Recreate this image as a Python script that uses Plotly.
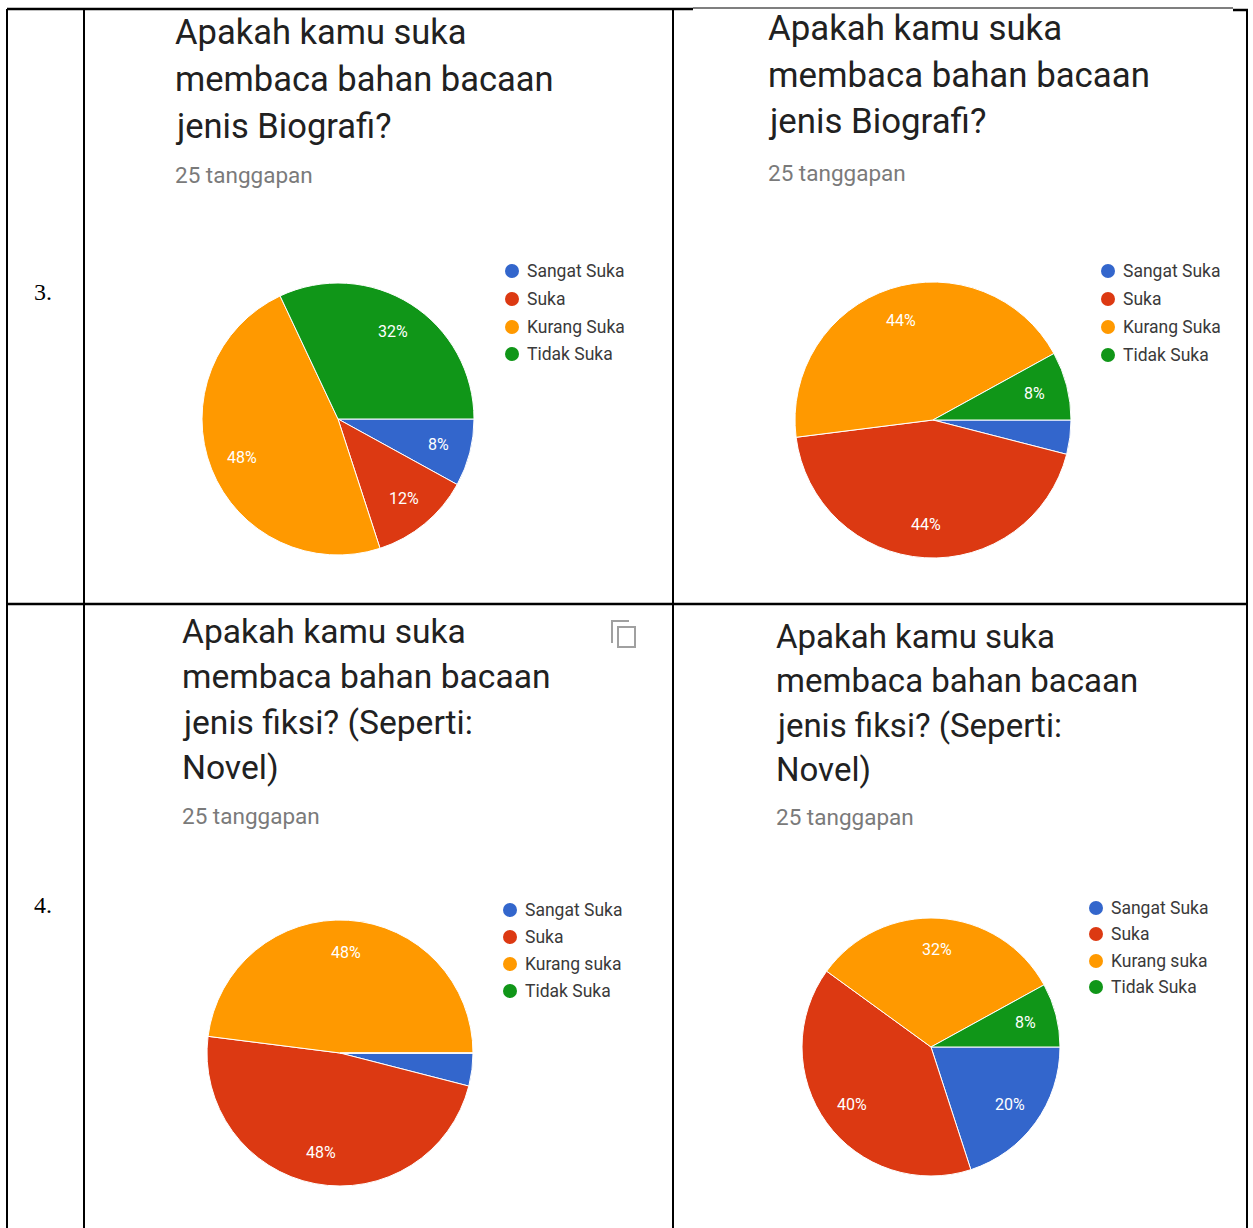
import math
import plotly.graph_objects as go

W, H = 1253, 1228

# Survey answers (25 responses per question)
opsi_biografi = ["Sangat Suka", "Suka", "Kurang Suka", "Tidak Suka"]
opsi_fiksi = ["Sangat Suka", "Suka", "Kurang suka", "Tidak Suka"]

biografi_a = [2, 3, 12, 8]
biografi_b = [1, 11, 11, 2]
fiksi_a = [1, 12, 12, 0]
fiksi_b = [5, 10, 8, 2]

judul_biografi = ["Apakah kamu suka", "membaca bahan bacaan", "jenis Biografi?"]
judul_fiksi = ["Apakah kamu suka", "membaca bahan bacaan", "jenis fiksi? (Seperti:", "Novel)"]
jumlah_tanggapan = "25 tanggapan"
nomor_baris = ["3.", "4."]

WARNA = ["#3366cc", "#dc3912", "#ff9900", "#109618"]
FONT = "Roboto"
LABEL_RADIUS = 0.76   # percentage labels sit on the slice bisector at this share of the radius


def px_x(x):
    return x / W


def px_y(y):
    return 1 - y / H


# layout of each panel: pie centre/radius, title block, legend block
panels = [
    dict(values=biografi_a, labels=opsi_biografi, judul=judul_biografi,
         cx=338, cy=419, r=136, tx=173, ty=[32, 79, 126], tsize=34.5, sy=175,
         lx=512, ly=[271, 299, 327, 354]),
    dict(values=biografi_b, labels=opsi_biografi, judul=judul_biografi,
         cx=933, cy=420, r=138, tx=766, ty=[28, 75, 121], tsize=34.8, sy=173,
         lx=1108, ly=[271, 299, 327, 355]),
    dict(values=fiksi_a, labels=opsi_fiksi, judul=judul_fiksi,
         cx=340, cy=1053, r=133, tx=180, ty=[631, 676, 722, 768], tsize=33.6, sy=816,
         lx=510, ly=[910, 937, 964, 991]),
    dict(values=fiksi_b, labels=opsi_fiksi, judul=judul_fiksi,
         cx=931, cy=1047, r=129, tx=774, ty=[636, 680, 725, 770], tsize=33, sy=817,
         lx=1096, ly=[908, 934, 961, 987]),
]

fig = go.Figure()
annotations = []
shapes = []

for p in panels:
    total = sum(p["values"])
    fig.add_trace(go.Pie(
        labels=p["labels"], values=p["values"],
        sort=False, direction="clockwise", rotation=90,
        marker=dict(colors=WARNA, line=dict(color="white", width=1)),
        textinfo="none",
        hoverinfo="label+percent", showlegend=False,
        domain=dict(x=[px_x(p["cx"] - p["r"]), px_x(p["cx"] + p["r"])],
                    y=[px_y(p["cy"] + p["r"]), px_y(p["cy"] - p["r"])]),
    ))
    # percentage labels along each slice bisector (slices start at 3 o'clock, clockwise)
    kumulatif = 0
    for v in p["values"]:
        frac = v / total
        if frac >= 0.05:
            sudut = 2 * math.pi * (kumulatif + frac / 2)
            lx = p["cx"] + LABEL_RADIUS * p["r"] * math.cos(sudut)
            ly = p["cy"] + LABEL_RADIUS * p["r"] * math.sin(sudut)
            annotations.append(dict(text=f"{frac:.0%}", x=px_x(lx), y=px_y(ly),
                                    xref="paper", yref="paper", xanchor="center", yanchor="middle",
                                    showarrow=False,
                                    font=dict(family=FONT, size=16, color="white")))
        kumulatif += frac
    # question title
    for line, y in zip(p["judul"], p["ty"]):
        annotations.append(dict(text=line, x=px_x(p["tx"]), y=px_y(y), xref="paper", yref="paper",
                                xanchor="left", yanchor="middle", showarrow=False,
                                font=dict(family=FONT, size=p["tsize"], color="#212121")))
    annotations.append(dict(text=jumlah_tanggapan, x=px_x(p["tx"]), y=px_y(p["sy"]),
                            xref="paper", yref="paper", xanchor="left", yanchor="middle",
                            showarrow=False, font=dict(family=FONT, size=22.5, color="#7a7a7a")))
    # legend with round markers
    for lab, col, y in zip(p["labels"], WARNA, p["ly"]):
        shapes.append(dict(type="circle", xref="paper", yref="paper",
                           xsizemode="pixel", ysizemode="pixel",
                           xanchor=px_x(p["lx"]), yanchor=px_y(y),
                           x0=-7, x1=7, y0=-7, y1=7,
                           fillcolor=col, line=dict(width=0)))
        annotations.append(dict(text=lab, x=px_x(p["lx"] + 13), y=px_y(y), xref="paper", yref="paper",
                                xanchor="left", yanchor="middle", showarrow=False,
                                font=dict(family=FONT, size=17.5, color="#3a3a3a")))

# row numbers
for lab, y in zip(nomor_baris, [292, 905]):
    annotations.append(dict(text=lab, x=px_x(32), y=px_y(y), xref="paper", yref="paper",
                            xanchor="left", yanchor="middle", showarrow=False,
                            font=dict(family="Liberation Serif", size=24, color="black")))

# table grid
def garis(x0, y0, x1, y1, w=2):
    shapes.append(dict(type="line", xref="paper", yref="paper",
                       x0=px_x(x0), y0=px_y(y0), x1=px_x(x1), y1=px_y(y1),
                       line=dict(color="black", width=w)))

garis(7, 9, 693, 9, 2.5)
garis(693, 8, 1233, 8, 1.2)
garis(1233, 10, 1248, 10, 2.5)
garis(7, 9, 7, H)
garis(84, 9, 84, H)
garis(673, 9, 673, H)
garis(1247, 9, 1247, H)
garis(7, 604, 1248, 604, 2.5)

# copy icon next to the fiction question
shapes.append(dict(type="path", xref="paper", yref="paper",
                   path=f"M {px_x(612)} {px_y(643)} L {px_x(612)} {px_y(621)} L {px_x(629)} {px_y(621)}",
                   line=dict(color="#a0a0a0", width=2)))
shapes.append(dict(type="rect", xref="paper", yref="paper",
                   x0=px_x(618), x1=px_x(635), y0=px_y(647), y1=px_y(627),
                   line=dict(color="#a0a0a0", width=2)))

fig.update_layout(
    width=W, height=H,
    margin=dict(l=0, r=0, t=0, b=0),
    paper_bgcolor="white", plot_bgcolor="white",
    annotations=annotations, shapes=shapes,
    showlegend=False,
)

fig.write_html("out.html")
